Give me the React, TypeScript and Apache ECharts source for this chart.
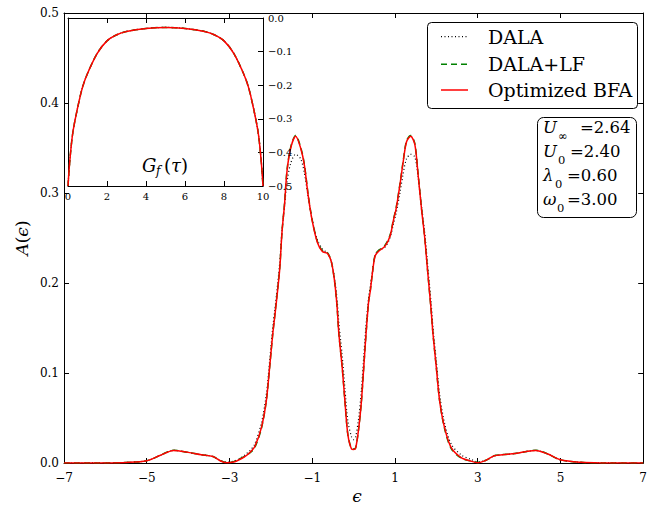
import React, { useEffect, useRef } from "react";
import * as echarts from "echarts";

// energy grid (epsilon)
const EPS = [
  -7, -6, -5.5, -5, -4.7, -4.35, -4, -3.68, -3.4, -3.2,
  -3.05, -2.9, -2.79, -2.63, -2.5, -2.39, -2.23, -2.11, -2.03, -1.955,
  -1.9, -1.79, -1.73, -1.67, -1.61, -1.52, -1.4, -1.28, -1.19, -1.1,
  -1, -0.875, -0.755, -0.635, -0.54, -0.46, -0.4, -0.355, -0.275, -0.21,
  -0.14, -0.05, 0, 0.05, 0.125, 0.19, 0.245, 0.3, 0.365, 0.4,
  0.46, 0.52, 0.6, 0.76, 0.88, 0.96, 1.03, 1.12, 1.2, 1.28,
  1.38, 1.48, 1.56, 1.64, 1.72, 1.79, 1.87, 1.92, 2, 2.08,
  2.2, 2.36, 2.6, 2.84, 3, 3.2, 3.4, 3.6, 3.9, 4.15,
  4.4, 4.7, 5, 5.5, 6, 7,
];

// DALA (black dotted)
const A_DALA = [
  0, 0.0001, 0.0006, 0.0025, 0.008, 0.014, 0.0118, 0.0092, 0.0072, 0.0025,
  0.0008, 0.002, 0.004, 0.009, 0.014, 0.021, 0.044, 0.076, 0.113, 0.15,
  0.172, 0.22, 0.258, 0.285, 0.312, 0.333, 0.343, 0.338, 0.322, 0.296,
  0.27, 0.248, 0.238, 0.233, 0.224, 0.205, 0.182, 0.155, 0.119, 0.083,
  0.047, 0.029, 0.026, 0.029, 0.051, 0.082, 0.118, 0.153, 0.185, 0.195,
  0.215, 0.231, 0.236, 0.24, 0.25, 0.265, 0.278, 0.3, 0.322, 0.338,
  0.343, 0.34, 0.318, 0.286, 0.256, 0.22, 0.18, 0.15, 0.113, 0.076,
  0.044, 0.021, 0.009, 0.004, 0.0015, 0.003, 0.008, 0.0092, 0.0105, 0.0125,
  0.014, 0.01, 0.0035, 0.0007, 0.0001, 0,
];

// DALA+LF (green dashed)
const A_LF = [
  0, 0.0001, 0.0006, 0.0025, 0.008, 0.0141, 0.0118, 0.0093, 0.0072, 0.0022,
  0.0004, 0.0015, 0.004, 0.0075, 0.0115, 0.017, 0.038, 0.069, 0.106, 0.143,
  0.166, 0.214, 0.257, 0.288, 0.325, 0.351, 0.364, 0.351, 0.332, 0.299,
  0.27, 0.246, 0.236, 0.234, 0.224, 0.202, 0.174, 0.143, 0.106, 0.069,
  0.032, 0.016, 0.0155, 0.017, 0.039, 0.069, 0.106, 0.143, 0.18, 0.19,
  0.213, 0.231, 0.236, 0.242, 0.253, 0.27, 0.284, 0.31, 0.336, 0.358,
  0.364, 0.355, 0.321, 0.284, 0.25, 0.213, 0.172, 0.143, 0.106, 0.069,
  0.038, 0.016, 0.0055, 0.002, 0.0005, 0.003, 0.008, 0.0093, 0.0105, 0.0125,
  0.0141, 0.01, 0.0035, 0.0007, 0.0001, 0,
];

// Optimized BFA (red solid)
const A_BFA = [
  0, 0.0001, 0.0006, 0.0025, 0.008, 0.014, 0.0118, 0.0092, 0.0072, 0.002,
  0.0002, 0.001, 0.003, 0.007, 0.012, 0.018, 0.039, 0.069, 0.106, 0.143,
  0.165, 0.213, 0.257, 0.287, 0.324, 0.35, 0.363, 0.35, 0.331, 0.298,
  0.269, 0.245, 0.235, 0.233, 0.224, 0.202, 0.174, 0.143, 0.106, 0.069,
  0.032, 0.0155, 0.015, 0.0165, 0.039, 0.069, 0.106, 0.143, 0.18, 0.19,
  0.213, 0.23, 0.235, 0.241, 0.252, 0.269, 0.283, 0.309, 0.335, 0.357,
  0.363, 0.354, 0.32, 0.283, 0.25, 0.213, 0.172, 0.143, 0.106, 0.069,
  0.039, 0.017, 0.006, 0.002, 0.0003, 0.003, 0.008, 0.0092, 0.0105, 0.0125,
  0.014, 0.01, 0.0035, 0.0007, 0.0001, 0,
];

// inset: G_f(tau)
const TAU = [0, 0.1, 0.25, 0.5, 0.75, 1, 1.5, 2, 2.5, 3, 4, 5, 6, 7, 7.5, 8, 8.5, 9, 9.25, 9.5, 9.75, 9.9, 10];
const G_F = [
  -0.5, -0.42, -0.34, -0.265, -0.205, -0.165, -0.105, -0.068, -0.05, -0.04, -0.031, -0.028,
  -0.031, -0.04, -0.05, -0.068, -0.105, -0.165, -0.205, -0.265, -0.34, -0.42, -0.5,
];

const X_TICKS = [-7, -5, -3, -1, 1, 3, 5, 7];
const Y_TICKS = [0, 0.1, 0.2, 0.3, 0.4, 0.5];
const TAU_TICKS = [0, 2, 4, 6, 8, 10];
const G_TICKS = [-0.5, -0.4, -0.3, -0.2, -0.1, 0];

const LEGEND_NAMES = ["DALA", "DALA+LF", "Optimized BFA"];
const PARAMS = [
  { sym: "U", sub: "\u221E", val: "=2.64" },
  { sym: "U", sub: "0", val: "=2.40" },
  { sym: "\u03BB", sub: "0", val: "=0.60" },
  { sym: "\u03C9", sub: "0", val: "=3.00" },
];

const FF = '"DejaVu Serif", serif';
const fmtNum = (d: number) => (v: number) => {
  const s = v.toFixed(d);
  return s.startsWith("-") ? "\u2212" + s.slice(1) : s;
};

export default function App() {
  const ref = useRef<HTMLDivElement>(null);
  useEffect(() => {
    if (!ref.current) return;
    const chart = echarts.init(ref.current, null, { renderer: "svg" });

    const axisLine = { show: true, onZero: false, lineStyle: { color: "#000", width: 1 } };
    const tick = (vals: number[]) => ({
      show: true, inside: true, length: 5, customValues: vals,
      lineStyle: { color: "#000", width: 1 },
    });

    const mainX = (pos: string, showLabel: boolean) => ({
      gridIndex: 0, type: "value", min: -7, max: 7, position: pos,
      axisLine, axisTick: tick(X_TICKS), splitLine: { show: false },
      axisLabel: {
        show: showLabel, customValues: X_TICKS, formatter: fmtNum(0),
        color: "#000", fontFamily: FF, fontSize: 12, margin: 9,
      },
    });
    const mainY = (pos: string, showLabel: boolean) => ({
      gridIndex: 0, type: "value", min: 0, max: 0.5, position: pos,
      axisLine, axisTick: tick(Y_TICKS), splitLine: { show: false },
      axisLabel: {
        show: showLabel, customValues: Y_TICKS, formatter: fmtNum(1),
        color: "#000", fontFamily: FF, fontSize: 12, margin: 5,
      },
    });
    const insetX = (pos: string, showLabel: boolean) => ({
      gridIndex: 1, type: "value", min: 0, max: 10, position: pos, z: 6,
      axisLine, axisTick: tick(TAU_TICKS), splitLine: { show: false },
      axisLabel: {
        show: showLabel, customValues: TAU_TICKS, formatter: fmtNum(0),
        color: "#000", fontFamily: FF, fontSize: 10, margin: 5,
      },
    });
    const insetY = (pos: string, showLabel: boolean, showTick: boolean) => ({
      gridIndex: 1, type: "value", min: -0.5, max: 0, position: pos, z: 6,
      axisLine, axisTick: { ...tick(G_TICKS), show: showTick }, splitLine: { show: false },
      axisLabel: {
        show: showLabel, customValues: G_TICKS, formatter: fmtNum(1),
        color: "#000", fontFamily: FF, fontSize: 10, margin: 5,
      },
    });

    const mainSeries = (vals: number[], color: string, width: number, type: any, z: number) => ({
      type: "line", xAxisIndex: 0, yAxisIndex: 0, z,
      data: EPS.map((e, i) => [e, vals[i]]),
      symbol: "none", showSymbol: false, smooth: 0.3, clip: true,
      lineStyle: { color, width, type },
    });
    const insetSeries = (color: string, width: number, type: any, z: number) => ({
      type: "line", xAxisIndex: 2, yAxisIndex: 2, z,
      data: TAU.map((t, i) => [t, G_F[i]]),
      symbol: "none", showSymbol: false, smooth: 0.3,
      lineStyle: { color, width, type },
    });

    const legendStyles = [
      { color: "#000", width: 1.2, type: [1, 2.5] },
      { color: "#008000", width: 1.5, type: [6, 4] },
      { color: "#ff0000", width: 1.5, type: "solid" },
    ];
    const legendY = [36.7, 64.3, 90];

    const graphic: any[] = [];
    // legend box
    graphic.push({
      type: "rect", z: 100, shape: { x: 427.5, y: 22.5, width: 210, height: 86, r: 4 },
      style: { fill: "#fff", stroke: "#000", lineWidth: 1 },
    });
    LEGEND_NAMES.forEach((name, i) => {
      const s = legendStyles[i];
      graphic.push({
        type: "line", z: 101,
        shape: { x1: 441, y1: legendY[i], x2: 468, y2: legendY[i] },
        style: { stroke: s.color, lineWidth: s.width, lineDash: Array.isArray(s.type) ? s.type : null },
      });
      graphic.push({
        type: "text", z: 101, x: 488, y: legendY[i],
        style: { text: name, fill: "#000", fontFamily: FF, fontSize: 19, align: "left", verticalAlign: "middle" },
      });
    });
    // parameter box
    graphic.push({
      type: "rect", z: 100, shape: { x: 537.5, y: 117.5, width: 99, height: 100, r: 6 },
      style: { fill: "#fff", stroke: "#000", lineWidth: 1 },
    });
    const rowY = [127.5, 151.5, 175.5, 199.5];
    const subX = [558, 558, 555, 557];
    const valX = [580, 570, 567, 567];
    PARAMS.forEach((p, i) => {
      graphic.push({
        type: "text", z: 101, x: 543, y: rowY[i],
        style: { text: p.sym, fill: "#000", fontFamily: FF, fontStyle: "italic", fontSize: 16.5, align: "left", verticalAlign: "middle" },
      });
      graphic.push({
        type: "text", z: 101, x: subX[i], y: rowY[i] + 8.5,
        style: { text: p.sub, fill: "#000", fontFamily: FF, fontSize: 11.5, align: "left", verticalAlign: "middle" },
      });
      graphic.push({
        type: "text", z: 101, x: valX[i], y: rowY[i],
        style: { text: p.val, fill: "#000", fontFamily: FF, fontSize: 16.5, align: "left", verticalAlign: "middle" },
      });
    });
    // inset label G_f(tau)
    graphic.push({
      type: "text", z: 101, x: 142, y: 165,
      style: { text: "G", fill: "#000", fontFamily: FF, fontStyle: "italic", fontSize: 18, align: "left", verticalAlign: "middle" },
    });
    graphic.push({
      type: "text", z: 101, x: 156, y: 171,
      style: { text: "f", fill: "#000", fontFamily: FF, fontStyle: "italic", fontSize: 12, align: "left", verticalAlign: "middle" },
    });
    graphic.push({
      type: "text", z: 101, x: 164, y: 165,
      style: {
        text: "{r|(}{i|\u03C4}{r|)}", fill: "#000", align: "left", verticalAlign: "middle",
        rich: {
          r: { fontFamily: FF, fontSize: 18, fill: "#000" },
          i: { fontFamily: FF, fontSize: 18, fontStyle: "italic", fill: "#000" },
        },
      },
    });
    // axis titles
    graphic.push({
      type: "text", z: 101, x: 22, y: 238, rotation: Math.PI / 2,
      style: {
        text: "{i|A}{r|(}{i|\u03F5}{r|)}", align: "center", verticalAlign: "middle",
        rich: {
          r: { fontFamily: FF, fontSize: 17, fill: "#000" },
          i: { fontFamily: FF, fontSize: 17, fontStyle: "italic", fill: "#000" },
        },
      },
    });
    graphic.push({
      type: "text", z: 101, x: 357, y: 496,
      style: { text: "\u03F5", fill: "#000", fontFamily: FF, fontStyle: "italic", fontSize: 17, align: "center", verticalAlign: "middle" },
    });

    const option: any = {
      animation: false,
      backgroundColor: "#fff",
      grid: [
        { left: 64, right: 2, top: 13, bottom: 45, show: false },
        { left: 68, top: 18, width: 195, height: 168, show: true, backgroundColor: "#fff", borderWidth: 0, z: 3 },
      ],
      xAxis: [mainX("bottom", true), mainX("top", false), insetX("bottom", true), insetX("top", false)],
      yAxis: [mainY("left", true), mainY("right", false), insetY("right", true, true), insetY("left", false, false)],
      series: [
        mainSeries(A_DALA, "#000", 1.2, [1, 2.5], 2),
        mainSeries(A_LF, "#008000", 1.5, [6, 4], 3),
        mainSeries(A_BFA, "#ff0000", 1.5, "solid", 4),
        insetSeries("#000", 1.2, [1, 2.5], 5),
        insetSeries("#008000", 1.5, [6, 4], 6),
        insetSeries("#ff0000", 1.5, "solid", 7),
      ],
      graphic,
    };
    chart.setOption(option);
    return () => chart.dispose();
  }, []);

  return (
    <div
      ref={ref}
      style={{ position: "fixed", left: 0, top: 0, width: 650, height: 508, background: "#fff" }}
    />
  );
}
